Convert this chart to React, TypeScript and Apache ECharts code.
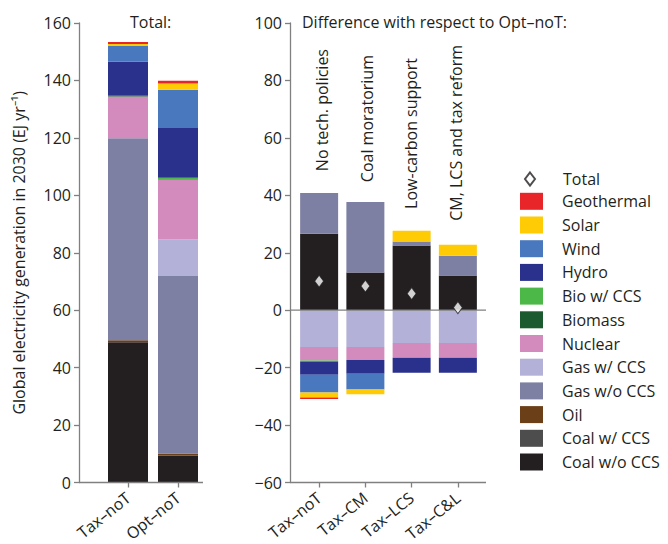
import React, { useEffect, useRef } from 'react';
import * as echarts from 'echarts';

// ---------- categories & labels ----------
const leftCategories = ['Tax–noT', 'Opt–noT'];
const rightCategories = ['Tax–noT', 'Tax–CM', 'Tax–LCS', 'Tax–C&L'];
const policyLabels = ['No tech. policies', 'Coal moratorium', 'Low-carbon support', 'CM, LCS and tax reform'];
const leftTitle = 'Total:';
const rightTitle = 'Difference with respect to Opt–noT:';
const yAxisName = 'Global electricity generation in 2030 (EJ yr⁻¹)';

// ---------- left panel: totals (EJ/yr) ----------
const coalWoCCS = [48.8, 9.4];
const coalWCCS = [0, 0];
const oil = [0.7, 0.7];
const gasWoCCS = [70.4, 61.8];
const gasWCCS = [0, 12.8];
const nuclear = [14.5, 20.7];
const biomass = [0.4, 0.2];
const bioWCCS = [0, 0.5];
const hydro = [11.7, 17.3];
const wind = [5.5, 13.4];
const solar = [0.7, 2.1];
const geothermal = [0.7, 1.0];

// ---------- right panel: differences w.r.t. Opt–noT (EJ/yr) ----------
const dCoalWoCCS = [26.6, 13.1, 22.5, 12.1];
const dCoalWCCS = [0, 0, 0, 0];
const dOil = [0, 0, 0, 0];
const dGasWoCCS = [14.2, 24.6, 1.4, 6.9];
const dGasWCCS = [-12.8, -12.8, -11.4, -11.4];
const dNuclear = [-4.7, -4.5, -5.2, -5.2];
const dBiomass = [0, 0, 0, 0];
const dBioWCCS = [-0.4, 0, 0, 0];
const dHydro = [-4.6, -4.8, -5.2, -5.2];
const dWind = [-6.2, -5.5, 0, 0];
const dSolar = [-1.7, -1.7, 3.8, 3.8];
const dGeothermal = [-0.5, 0, 0, 0];
const dTotal = [10.1, 8.4, 5.8, 0.9];

// stacking order, bottom to top
const sources = [
  { name: 'Coal w/o CCS', color: '#231f20', left: coalWoCCS, right: dCoalWoCCS },
  { name: 'Coal w/ CCS', color: '#4d4d4d', left: coalWCCS, right: dCoalWCCS },
  { name: 'Oil', color: '#6b3f18', left: oil, right: dOil },
  { name: 'Gas w/o CCS', color: '#7e80a3', left: gasWoCCS, right: dGasWoCCS },
  { name: 'Gas w/ CCS', color: '#b3b1d7', left: gasWCCS, right: dGasWCCS },
  { name: 'Nuclear', color: '#d38abd', left: nuclear, right: dNuclear },
  { name: 'Biomass', color: '#1a5a2e', left: biomass, right: dBiomass },
  { name: 'Bio w/ CCS', color: '#4cb848', left: bioWCCS, right: dBioWCCS },
  { name: 'Hydro', color: '#2a318d', left: hydro, right: dHydro },
  { name: 'Wind', color: '#4a78be', left: wind, right: dWind },
  { name: 'Solar', color: '#ffcb05', left: solar, right: dSolar },
  { name: 'Geothermal', color: '#e8262a', left: geothermal, right: dGeothermal },
];

const FONT = 'Open Sans';
const TXT = '#231f20';
const AXIS = '#808080';

export default function App() {
  const ref = useRef<HTMLDivElement>(null);

  useEffect(() => {
    document.body.style.margin = '0';
    const chart = echarts.init(ref.current as HTMLDivElement, null, { renderer: 'svg' });

    const gridL = { left: 103, top: 23, width: 100, height: 463 };
    const gridR = { left: 296, top: 23, width: 185, height: 463 };

    const minusFmt = (v: number) => (v < 0 ? '−' + Math.abs(v) : String(v));

    const series: any[] = [];
    sources.forEach((s) => {
      series.push({
        name: s.name,
        type: 'bar',
        xAxisIndex: 0,
        yAxisIndex: 0,
        stack: 'L',
        barWidth: 40,
        itemStyle: { color: s.color },
        data: s.left,
      });
      series.push({
        name: s.name,
        type: 'bar',
        xAxisIndex: 1,
        yAxisIndex: 1,
        stack: 'R',
        stackStrategy: 'samesign',
        barWidth: 38,
        itemStyle: { color: s.color },
        data: s.right,
      });
    });
    series.push({
      name: 'Total',
      type: 'scatter',
      xAxisIndex: 1,
      yAxisIndex: 1,
      symbol: 'diamond',
      symbolSize: [9, 12],
      z: 5,
      itemStyle: { color: '#ffffff', borderColor: TXT, borderWidth: 1 },
      data: dTotal,
    });

    const commonX = {
      type: 'category',
      axisLine: { show: false },
      axisTick: { show: true, alignWithLabel: true, length: 5, lineStyle: { color: AXIS, width: 1.3 } },
      axisLabel: { rotate: 39, fontSize: 16, color: TXT, fontFamily: FONT, margin: 13, interval: 0 },
      splitLine: { show: false },
    };
    const commonY = {
      type: 'value',
      interval: 20,
      axisLine: { show: true, lineStyle: { color: AXIS, width: 1.3 } },
      axisTick: { show: true, length: 5, lineStyle: { color: AXIS, width: 1.3 } },
      axisLabel: { fontSize: 16, color: TXT, fontFamily: FONT, margin: 8, formatter: minusFmt },
      splitLine: { show: false },
    };

    const option: any = {
      animation: false,
      textStyle: { fontFamily: FONT },
      title: [
        {
          text: leftTitle, left: 130, top: 14, padding: 0,
          textStyle: { fontSize: 16, fontWeight: 'normal', color: TXT, fontFamily: FONT },
        },
        {
          text: rightTitle, left: 302, top: 14, padding: 0,
          textStyle: { fontSize: 16, fontWeight: 'normal', color: TXT, fontFamily: FONT },
        },
      ],
      grid: [gridL, gridR],
      xAxis: [
        { ...commonX, gridIndex: 0, data: leftCategories },
        { ...commonX, gridIndex: 1, data: rightCategories, axisLine: { show: false, onZero: false } },
      ],
      yAxis: [
        {
          ...commonY, gridIndex: 0, min: 0, max: 160, offset: 24,
          name: yAxisName, nameLocation: 'middle', nameGap: 52,
          nameTextStyle: { fontSize: 16, color: TXT, fontFamily: FONT },
        },
        { ...commonY, gridIndex: 1, min: -60, max: 100, offset: 6 },
      ],
      legend: [
        {
          orient: 'vertical', left: 524, top: 171, padding: 0,
          itemWidth: 10, itemHeight: 13,
          data: [{ name: 'Total', icon: 'diamond' }],
          textStyle: { fontSize: 16, color: TXT, fontFamily: FONT, padding: [0, 0, 0, 23] },
        },
        {
          orient: 'vertical', left: 520, top: 192.8, padding: 0,
          itemWidth: 23, itemHeight: 17, itemGap: 6.7,
          data: sources.slice().reverse().map((s) => ({ name: s.name, icon: 'rect' })),
          textStyle: { fontSize: 16, color: TXT, fontFamily: FONT, padding: [0, 0, 0, 14] },
        },
      ],
      series,
    };

    chart.setOption(option);

    const y0 = chart.convertToPixel({ yAxisIndex: 1 }, 0) as number;
    const yBottomL = chart.convertToPixel({ yAxisIndex: 0 }, 0) as number;
    const yBottomR = chart.convertToPixel({ yAxisIndex: 1 }, -60) as number;
    const xs = rightCategories.map((c) => chart.convertToPixel({ xAxisIndex: 1 }, c) as number);
    const labelTops = [49, 55, 58, 45];
    const labelDx = [3, 2, -1, -2];

    const lineStyle = { stroke: AXIS, lineWidth: 1.3 };
    chart.setOption({
      graphic: [
        {
          type: 'line', z: 3, silent: true,
          shape: { x1: gridL.left - 24, y1: yBottomL, x2: gridL.left + gridL.width, y2: yBottomL },
          style: lineStyle,
        },
        {
          type: 'line', z: 3, silent: true,
          shape: { x1: gridR.left - 6, y1: yBottomR, x2: gridR.left + gridR.width + 5, y2: yBottomR },
          style: lineStyle,
        },
        {
          type: 'line', z: 3, silent: true,
          shape: { x1: gridR.left - 6, y1: y0, x2: gridR.left + gridR.width + 5, y2: y0 },
          style: lineStyle,
        },
        ...policyLabels.map((t, i) => ({
          type: 'text',
          x: xs[i] + labelDx[i],
          y: labelTops[i],
          rotation: Math.PI / 2,
          silent: true,
          style: {
            text: t,
            fontSize: 16,
            fontFamily: FONT,
            fill: TXT,
            align: 'right',
            verticalAlign: 'middle',
            textAlign: 'right',
            textVerticalAlign: 'middle',
          },
        })),
      ],
    });

    return () => chart.dispose();
  }, []);

  return <div ref={ref} style={{ width: 668, height: 544 }} />;
}
